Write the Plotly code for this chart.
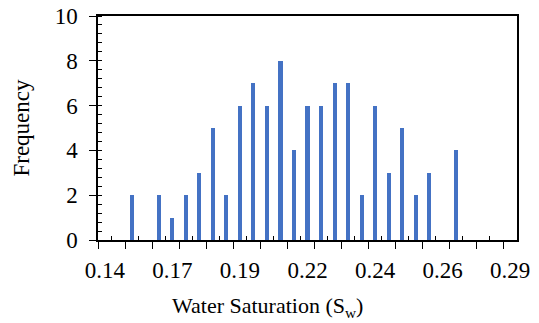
import plotly.graph_objects as go

# Bin centres (data units) and frequencies
bin_centers = [0.150, 0.155, 0.160, 0.165, 0.170, 0.175, 0.180, 0.185, 0.190, 0.195,
               0.200, 0.205, 0.210, 0.215, 0.220, 0.225, 0.230, 0.235, 0.240, 0.245,
               0.250, 0.255, 0.260, 0.265, 0.270]
frequency = [2, 0, 2, 1, 2, 3, 5, 2, 6, 7,
             6, 8, 4, 6, 6, 7, 7, 2, 6, 3,
             5, 2, 3, 0, 4]

tick_vals = [0.14, 0.165, 0.19, 0.215, 0.24, 0.265, 0.29]
tick_text = ["0.14", "0.17", "0.19", "0.22", "0.24", "0.26", "0.29"]

FONT = "Liberation Serif, Times New Roman, serif"
XR = [0.1375, 0.2925]

fig = go.Figure()
fig.add_trace(go.Bar(x=bin_centers, y=frequency, width=0.0015,
                     marker=dict(color="#4472C4", line=dict(width=0)),
                     showlegend=False))
fig.add_trace(go.Scatter(x=[XR[0]], y=[0], xaxis="x2", mode="markers",
                         marker=dict(opacity=0, size=1), showlegend=False, hoverinfo="skip"))

fig.update_layout(
    width=539, height=323,
    margin=dict(l=98, r=22, t=16, b=83, autoexpand=False),
    paper_bgcolor="white", plot_bgcolor="white",
    font=dict(family=FONT, size=23, color="black"),
    bargap=0,
    xaxis=dict(range=XR, showgrid=False, zeroline=False, automargin=False,
               showline=True, linecolor="black", linewidth=1.5, mirror=True,
               tickmode="linear", tick0=0.1375, dtick=0.01,
               ticks="outside", ticklen=7, tickwidth=1, tickcolor="black",
               showticklabels=False,
               minor=dict(ticks="inside", ticklen=4, tickwidth=1, tickcolor="black",
                          tick0=0.1425, dtick=0.01, showgrid=False)),
    xaxis2=dict(range=XR, overlaying="x", anchor="y", side="bottom", automargin=False,
                showgrid=False, zeroline=False, showline=False,
                tickmode="array", tickvals=tick_vals, ticktext=tick_text,
                ticks="", ticklabelstandoff=14,
                tickfont=dict(family=FONT, size=23, color="black")),
    yaxis=dict(range=[0, 10], showgrid=False, zeroline=False, automargin=False,
               showline=True, linecolor="black", linewidth=1.5, mirror=True,
               tickmode="linear", tick0=0, dtick=2,
               ticks="outside", ticklen=7, tickwidth=1, tickcolor="black",
               ticklabelstandoff=7,
               tickfont=dict(family=FONT, size=23, color="black"),
               minor=dict(ticks="inside", ticklen=4, tickwidth=1, tickcolor="black",
                          tick0=0, dtick=0.4, showgrid=False),
               title=dict(text="Frequency", font=dict(family=FONT, size=23, color="black"),
                          standoff=19)),
    annotations=[dict(text="Water Saturation (S<sub>w</sub>)", xref="paper", yref="paper",
                      x=0.4057, y=-0.297, xanchor="center", yanchor="middle",
                      showarrow=False, font=dict(family=FONT, size=22, color="black"))],
)

fig.write_html("out.html")
